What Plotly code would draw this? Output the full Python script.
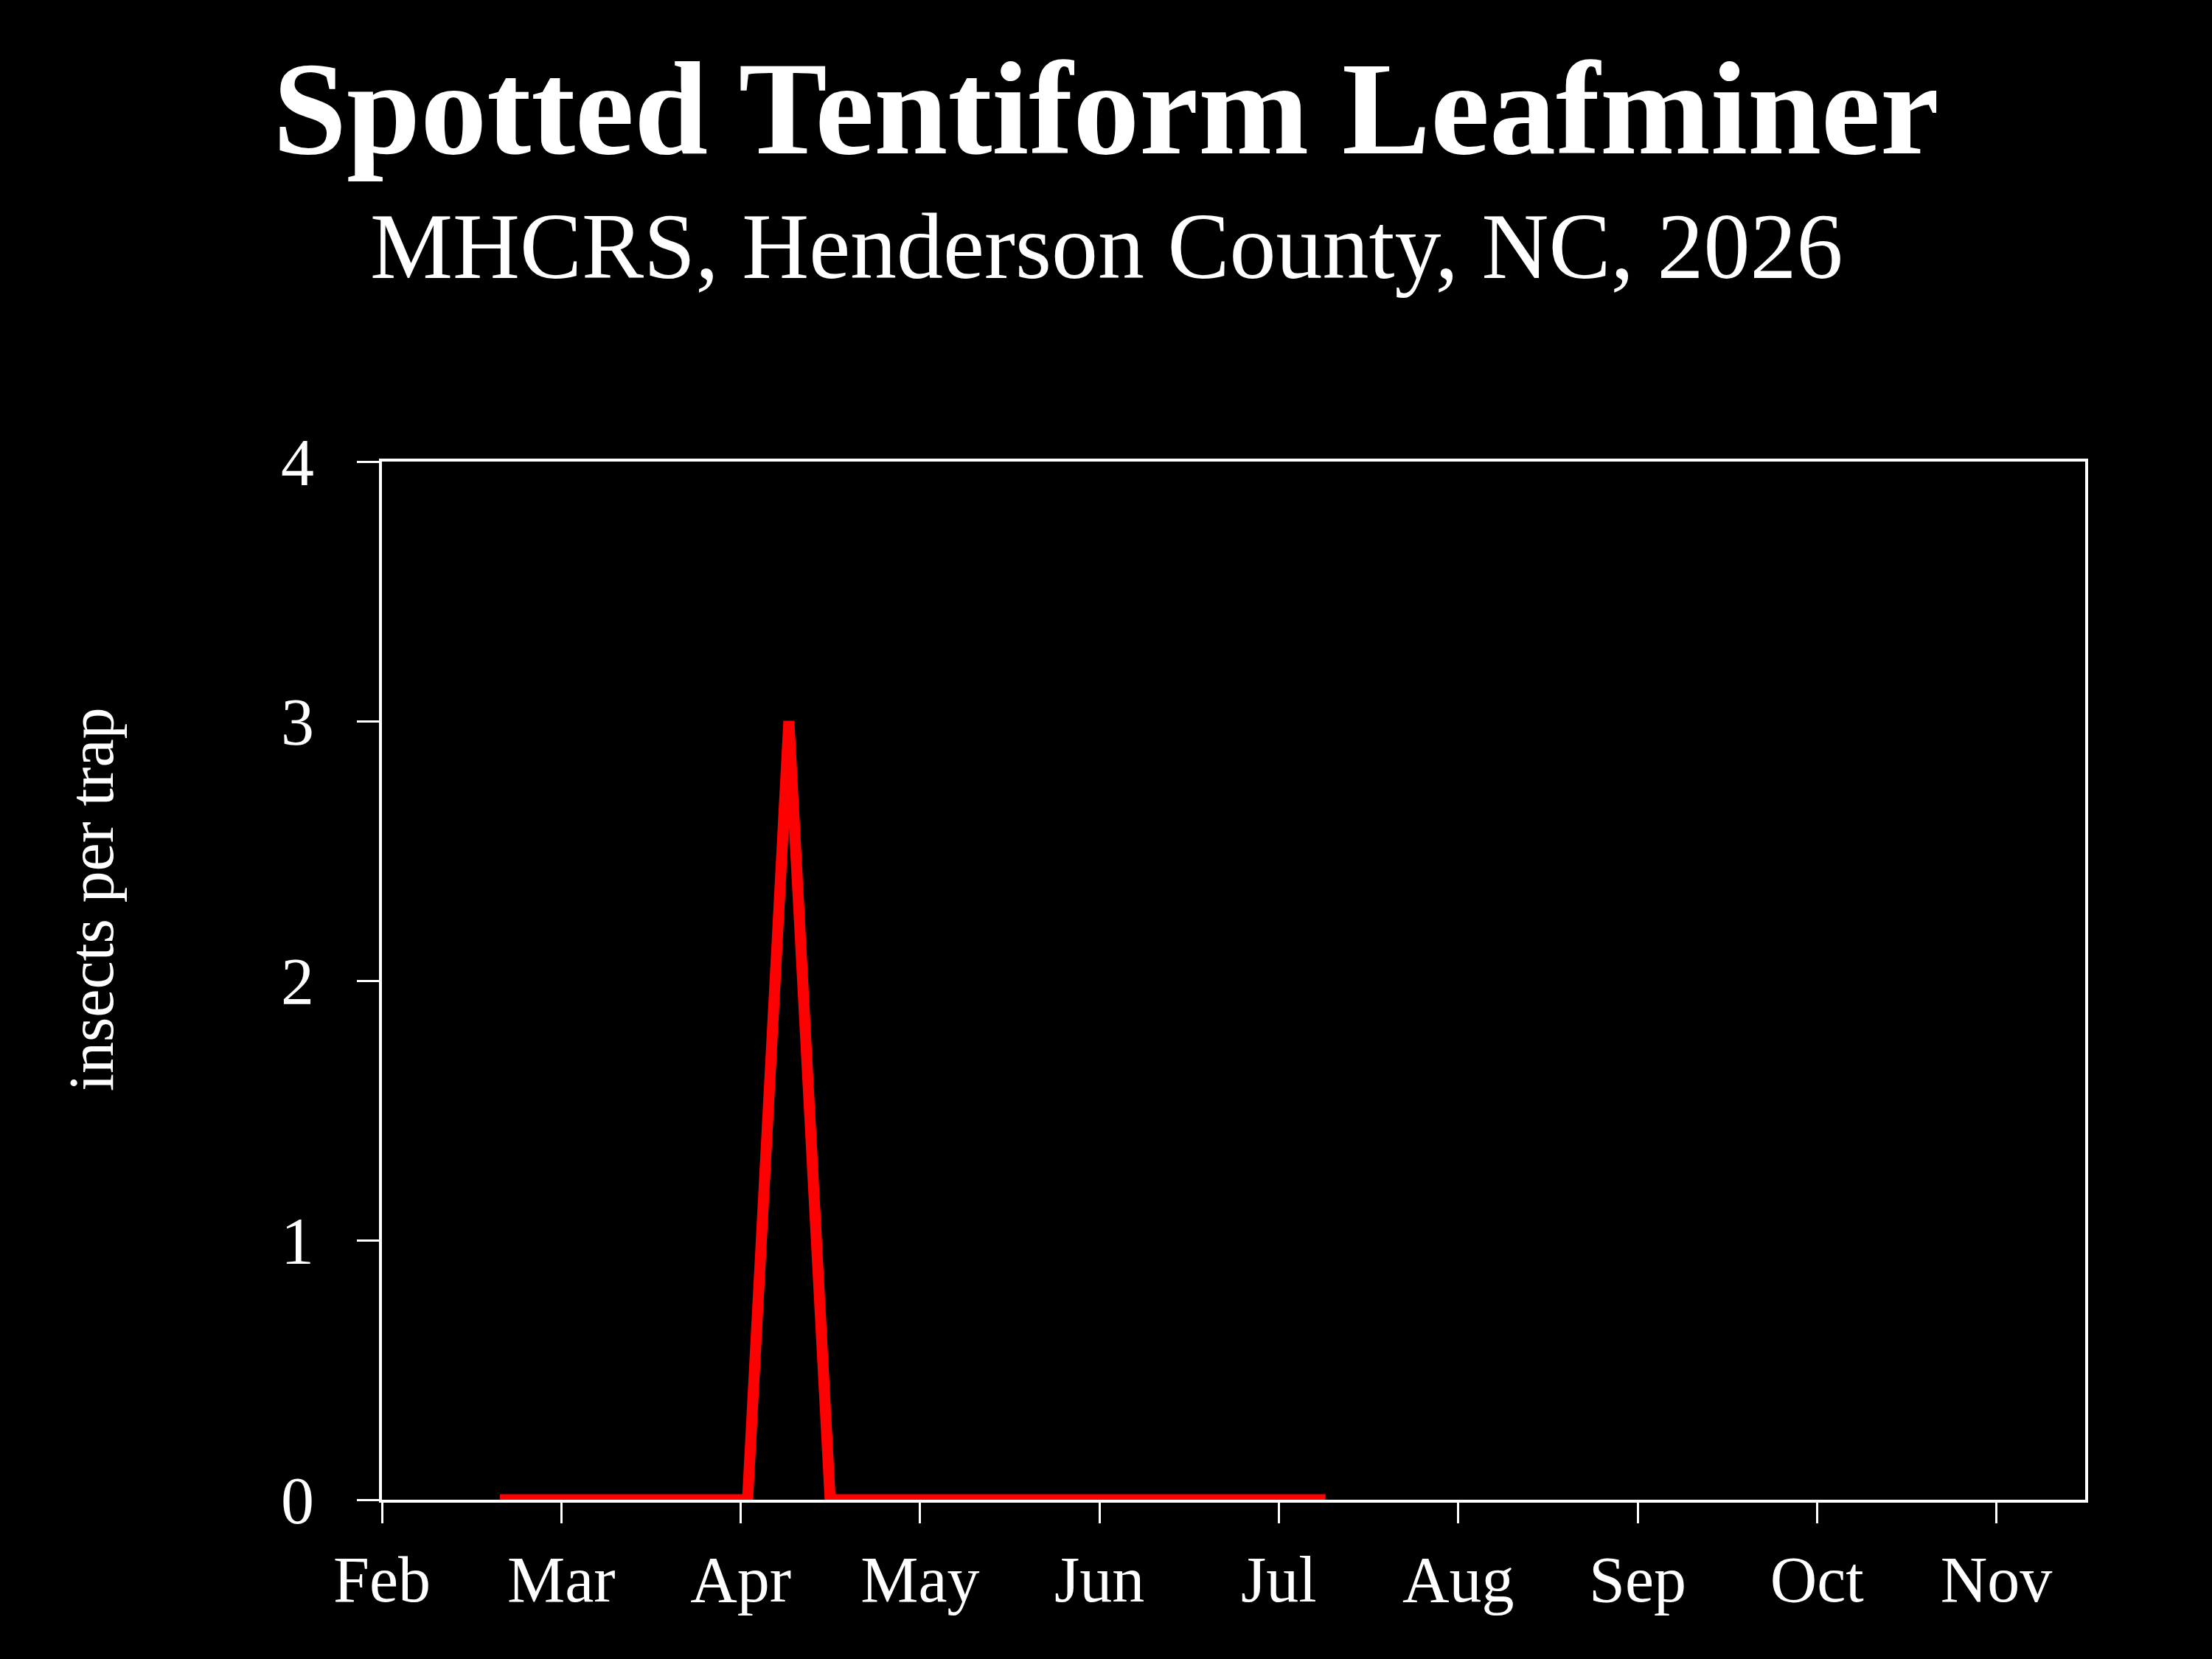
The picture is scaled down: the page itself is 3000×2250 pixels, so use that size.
import pandas as pd
import plotly.graph_objects as go

# ---- data ----
trap_dates = ["2026-02-21", "2026-02-28", "2026-03-07", "2026-03-14", "2026-03-21",
              "2026-03-28", "2026-04-04", "2026-04-11", "2026-04-18", "2026-04-25",
              "2026-05-02", "2026-05-09", "2026-05-16", "2026-05-23", "2026-05-30",
              "2026-06-06", "2026-06-13", "2026-06-20", "2026-06-27", "2026-07-04",
              "2026-07-11"]
insects_per_trap = [0, 0, 0, 0, 0, 0, 0, 3, 0, 0, 0, 0, 0, 0, 0, 0, 0, 0, 0, 0, 0]
month_labels = ["Feb", "Mar", "Apr", "May", "Jun", "Jul", "Aug", "Sep", "Oct", "Nov"]
y_ticks = [0, 1, 2, 3, 4]

title_text = "Spotted Tentiform Leafminer"
subtitle_text = "MHCRS, Henderson County, NC, 2026"
y_title = "insects per trap"

# x as days since Feb 1 (axis drawn with equal-width months)
start = pd.Timestamp("2026-02-01")
x_days = [(pd.Timestamp(d) - start).days for d in trap_dates]
month_len = 365 / 12
tick_pos = [i * month_len for i in range(len(month_labels))]

FONT = "Liberation Serif"
W, H = 3000, 2250
L, R, T, B = 518, 172, 626, 216
plot_h = H - T - B

def py(Y):
    return (H - B - Y) / plot_h

fig = go.Figure()
fig.add_trace(go.Scatter(
    x=x_days, y=insects_per_trap, mode="lines",
    line=dict(color="rgb(255,0,0)", width=15),
    showlegend=False, hoverinfo="skip",
))

fig.update_layout(
    width=W, height=H,
    paper_bgcolor="black", plot_bgcolor="black",
    margin=dict(l=L, r=R, t=T, b=B, autoexpand=False),
    font=dict(family=FONT, color="white"),
    xaxis=dict(
        range=[0, 9.495 * month_len],
        tickmode="array", tickvals=tick_pos, ticktext=month_labels,
        ticks="outside", ticklen=28, tickwidth=3, tickcolor="white",
        showline=True, linecolor="white", linewidth=4, mirror=True,
        showgrid=False, zeroline=False,
        tickfont=dict(family=FONT, size=88, color="white"),
        ticklabelstandoff=0, layer="below traces",
    ),
    yaxis=dict(
        range=[0, 4],
        tickmode="array", tickvals=y_ticks,
        ticks="outside", ticklen=30, tickwidth=3, tickcolor="white",
        showline=True, linecolor="white", linewidth=4, mirror=True,
        showgrid=False, zeroline=False,
        tickfont=dict(family=FONT, size=90, color="white"),
        ticklabelstandoff=40, layer="below traces",
    ),
    annotations=[
        dict(text="<b>" + title_text + "</b>", x=0.5, xref="paper", xanchor="center",
             xshift=(W / 2 - (L + (W - L - R) / 2)),
             y=py(148), yref="paper", yanchor="middle", showarrow=False,
             font=dict(family=FONT, size=180, color="white")),
        dict(text=subtitle_text, x=0.5, xref="paper", xanchor="center",
             xshift=(W / 2 - (L + (W - L - R) / 2)),
             y=py(334), yref="paper", yanchor="middle", showarrow=False,
             font=dict(family=FONT, size=126, color="white")),
        dict(text=y_title, x=0, xref="paper", xshift=124 - L, xanchor="center",
             y=py(1220), yref="paper", yanchor="middle", textangle=-90, showarrow=False,
             font=dict(family=FONT, size=86, color="white")),
    ],
)

fig.write_html(
    "out.html",
    config={"displayModeBar": False},
    post_script="document.body.style.margin='0';document.body.style.background='black';"
                "document.documentElement.style.background='black';",
)
